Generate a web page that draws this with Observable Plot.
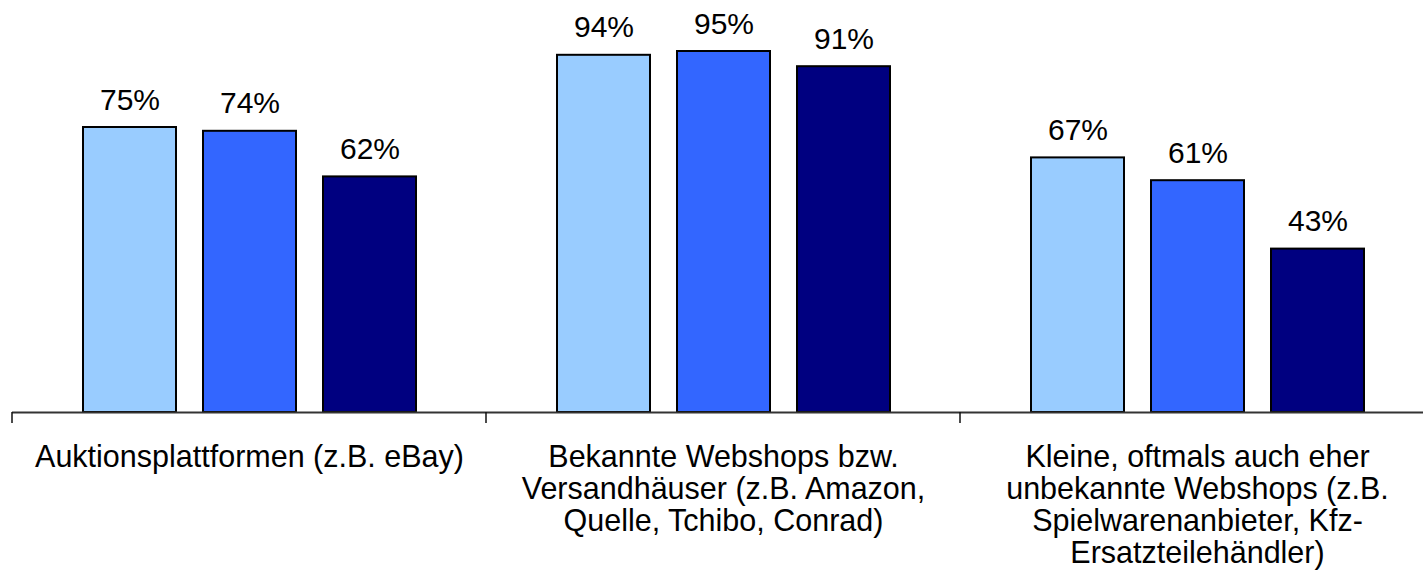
<!DOCTYPE html>
<html>
<head>
<meta charset="utf-8">
<script src="https://cdn.jsdelivr.net/npm/d3@7"></script>
<script src="https://cdn.jsdelivr.net/npm/@observablehq/plot@0.6"></script>
<style>
  html, body { margin: 0; padding: 0; background: #fff; overflow: hidden; }
</style>
</head>
<body>
<div id="chart"></div>
<script>
// Shopping channels (facets along the x axis)
const categories = [
  "Auktionsplattformen (z.B. eBay)",
  "Bekannte Webshops bzw. Versandhäuser (z.B. Amazon, Quelle, Tchibo, Conrad)",
  "Kleine, oftmals auch eher unbekannte Webshops (z.B. Spielwarenanbieter, Kfz-Ersatzteilehändler)"
];

// Tick labels as they are wrapped under each group
const categoryLabels = [
  "Auktionsplattformen (z.B. eBay)",
  "Bekannte Webshops bzw.\nVersandhäuser (z.B. Amazon,\nQuelle, Tchibo, Conrad)",
  "Kleine, oftmals auch eher\nunbekannte Webshops (z.B.\nSpielwarenanbieter, Kfz-\nErsatzteilehändler)"
];

// Three series per channel
const series = ["Serie 1", "Serie 2", "Serie 3"];
const valuesSerie1 = [75, 94, 67];
const valuesSerie2 = [74, 95, 61];
const valuesSerie3 = [62, 91, 43];
const seriesColors = ["#99CCFF", "#3366FF", "#000080"];

const seriesValues = [valuesSerie1, valuesSerie2, valuesSerie3];
const rows = [];
categories.forEach((category, i) => {
  series.forEach((s, j) => {
    rows.push({category, series: s, value: seriesValues[j][i]});
  });
});

const font = "'Liberation Sans', Arial, Helvetica, sans-serif";

const plot = Plot.plot({
  width: 1423,
  height: 587,
  marginTop: 32,
  marginBottom: 175,
  marginLeft: 12,
  marginRight: -11,
  style: {fontFamily: font, background: "#fff", color: "#000"},
  fx: {domain: categories, padding: 0, label: null},
  x: {domain: series, paddingInner: 0.225, paddingOuter: 0.5875, axis: null},
  y: {domain: [0, 100], axis: null},
  color: {domain: series, range: seriesColors},
  marks: [
    Plot.barY(rows, {
      fx: "category", x: "series", y: "value",
      fill: "series", stroke: "#000", strokeWidth: 2
    }),
    Plot.text(rows, {
      fx: "category", x: "series", y: "value",
      text: d => `${d.value}%`,
      lineAnchor: "bottom", dy: -18,
      fontSize: 30, fill: "#000"
    }),
    Plot.ruleY([0], {stroke: "#333", strokeWidth: 2}),
    Plot.axisFx({
      anchor: "bottom",
      tickSize: 0,
      tickPadding: 32,
      fontSize: 30.5,
      lineHeight: 1.05,
      fill: "#000",
      label: null,
      tickFormat: d => categoryLabels[categories.indexOf(d)]
    })
  ]
});

document.getElementById("chart").appendChild(plot);

// Tick marks at the group boundaries, placed with the plot's own scales
const fxScale = plot.scale("fx");
const yScale = plot.scale("y");
const band = d3.scaleBand(fxScale.domain, fxScale.range).padding(0);
const y0 = d3.scaleLinear(yScale.domain, yScale.range)(0);
d3.select(plot).append("g")
  .attr("stroke", "#111")
  .attr("stroke-width", 1.5)
  .selectAll("line")
  .data(categories)
  .join("line")
  .attr("x1", d => band(d))
  .attr("x2", d => band(d))
  .attr("y1", y0)
  .attr("y2", y0 + 11);
</script>
</body>
</html>
